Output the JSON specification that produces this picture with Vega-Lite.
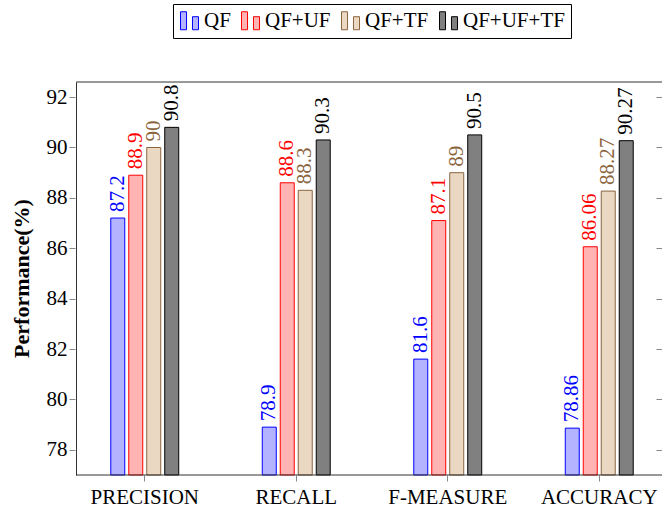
{
  "$schema": "https://vega.github.io/schema/vega-lite/v6.json",
  "width": 586,
  "height": 393,
  "autosize": {"type": "none"},
  "padding": {"left": 76, "top": 82, "right": 0, "bottom": 37},
  "background": "white",
  "config": {
    "view": {"stroke": null},
    "font": "Liberation Serif",
    "legend": {
      "orient": "none",
      "legendX": 97,
      "legendY": -78,
      "direction": "horizontal",
      "strokeColor": "black",
      "fillColor": "white",
      "padding": 6,
      "columnPadding": 8,
      "labelFontSize": 21,
      "labelFont": "Liberation Serif",
      "labelColor": "black",
      "labelOffset": 4,
      "symbolSize": 324,
      "symbolStrokeWidth": 1,
      "title": null
    }
  },
  "data": {
    "values": [
      {"metric": "PRECISION", "method": "QF", "value": 87.2},
      {"metric": "PRECISION", "method": "QF+UF", "value": 88.9},
      {"metric": "PRECISION", "method": "QF+TF", "value": 90},
      {"metric": "PRECISION", "method": "QF+UF+TF", "value": 90.8},
      {"metric": "RECALL", "method": "QF", "value": 78.9},
      {"metric": "RECALL", "method": "QF+UF", "value": 88.6},
      {"metric": "RECALL", "method": "QF+TF", "value": 88.3},
      {"metric": "RECALL", "method": "QF+UF+TF", "value": 90.3},
      {"metric": "F-MEASURE", "method": "QF", "value": 81.6},
      {"metric": "F-MEASURE", "method": "QF+UF", "value": 87.1},
      {"metric": "F-MEASURE", "method": "QF+TF", "value": 89},
      {"metric": "F-MEASURE", "method": "QF+UF+TF", "value": 90.5},
      {"metric": "ACCURACY", "method": "QF", "value": 78.86},
      {"metric": "ACCURACY", "method": "QF+UF", "value": 86.06},
      {"metric": "ACCURACY", "method": "QF+TF", "value": 88.27},
      {"metric": "ACCURACY", "method": "QF+UF+TF", "value": 90.27}
    ]
  },
  "layer": [
    {
      "mark": {"type": "bar", "strokeWidth": 1},
      "encoding": {
        "x": {
          "field": "metric", "type": "nominal",
          "sort": ["PRECISION", "RECALL", "F-MEASURE", "ACCURACY"],
          "scale": {"range": [-7, 599], "paddingInner": 0.525, "paddingOuter": 0.2625},
          "axis": {"title": null, "labelAngle": 0, "labelFontSize": 21, "labelFont": "Liberation Serif", "labelColor": "black", "tickSize": 6, "tickColor": "#888888", "domain": false, "labelPadding": 5}
        },
        "xOffset": {
          "field": "method", "type": "nominal",
          "sort": ["QF", "QF+UF", "QF+TF", "QF+UF+TF"],
          "scale": {"paddingInner": 0.222, "paddingOuter": 0.111}
        },
        "y": {
          "field": "value", "type": "quantitative",
          "scale": {"domain": [77, 92.6], "nice": false, "zero": false},
          "axis": {"orient": "left", "title": "Performance(%)", "titleFont": "Liberation Serif", "titleFontSize": 22, "titleFontWeight": "bold", "titleColor": "black", "titleAngle": 270, "titleX": -55, "titleY": 196, "titleAlign": "center", "titleBaseline": "middle", "values": [78, 80, 82, 84, 86, 88, 90, 92], "labelFont": "Liberation Serif", "labelFontSize": 21, "labelColor": "black", "labelAlign": "right", "ticks": false, "grid": true, "gridColor": "#888888", "gridDash": [6, 2000], "domainColor": "#333333", "labelPadding": 9}
        },
        "y2": {"datum": 77},
        "fill": {
          "field": "method", "type": "nominal",
          "sort": ["QF", "QF+UF", "QF+TF", "QF+UF+TF"],
          "scale": {"domain": ["QF", "QF+UF", "QF+TF", "QF+UF+TF"], "range": ["#b3b3ff", "#ffb3b3", "#ead8c3", "#808080"]},
          "legend": {"symbolType": "M-1,1L-1,-1L-0.33,-1L-0.33,1Z M0.33,1L0.33,-0.45L1,-0.45L1,1Z"}
        },
        "stroke": {
          "field": "method", "type": "nominal",
          "sort": ["QF", "QF+UF", "QF+TF", "QF+UF+TF"],
          "scale": {"domain": ["QF", "QF+UF", "QF+TF", "QF+UF+TF"], "range": ["#0000ff", "#ff0000", "#8b6540", "#000000"]},
          "legend": {"symbolType": "M-1,1L-1,-1L-0.33,-1L-0.33,1Z M0.33,1L0.33,-0.45L1,-0.45L1,1Z"}
        }
      }
    },
    {
      "mark": {"type": "text", "angle": 270, "align": "left", "baseline": "middle", "dx": 6, "fontSize": 21, "font": "Liberation Serif"},
      "encoding": {
        "x": {"field": "metric", "type": "nominal", "sort": ["PRECISION", "RECALL", "F-MEASURE", "ACCURACY"], "scale": {"range": [-7, 599], "paddingInner": 0.525, "paddingOuter": 0.2625}},
        "xOffset": {"field": "method", "type": "nominal", "sort": ["QF", "QF+UF", "QF+TF", "QF+UF+TF"], "scale": {"paddingInner": 0.222, "paddingOuter": 0.111}},
        "y": {
          "field": "value", "type": "quantitative",
          "axis": {"orient": "right", "title": null, "labels": false, "domain": false, "grid": false, "tickSize": -6, "tickColor": "#888888", "values": [78, 80, 82, 84, 86, 88, 90, 92]}
        },
        "text": {"field": "value", "type": "quantitative"},
        "color": {
          "field": "method", "type": "nominal",
          "scale": {"domain": ["QF", "QF+UF", "QF+TF", "QF+UF+TF"], "range": ["#0000ff", "#ff0000", "#8b6540", "#000000"]},
          "legend": null
        }
      }
    },
    {
      "data": {"values": [{}]},
      "mark": {"type": "rule", "color": "#333333", "strokeWidth": 1},
      "encoding": {"y": {"datum": 77, "type": "quantitative", "axis": null}}
    },
    {
      "data": {"values": [{}]},
      "mark": {"type": "rule", "color": "#333333", "strokeWidth": 1},
      "encoding": {"y": {"datum": 92.6, "type": "quantitative", "axis": null}}
    }
  ],
  "resolve": {"axis": {"y": "independent"}}
}
